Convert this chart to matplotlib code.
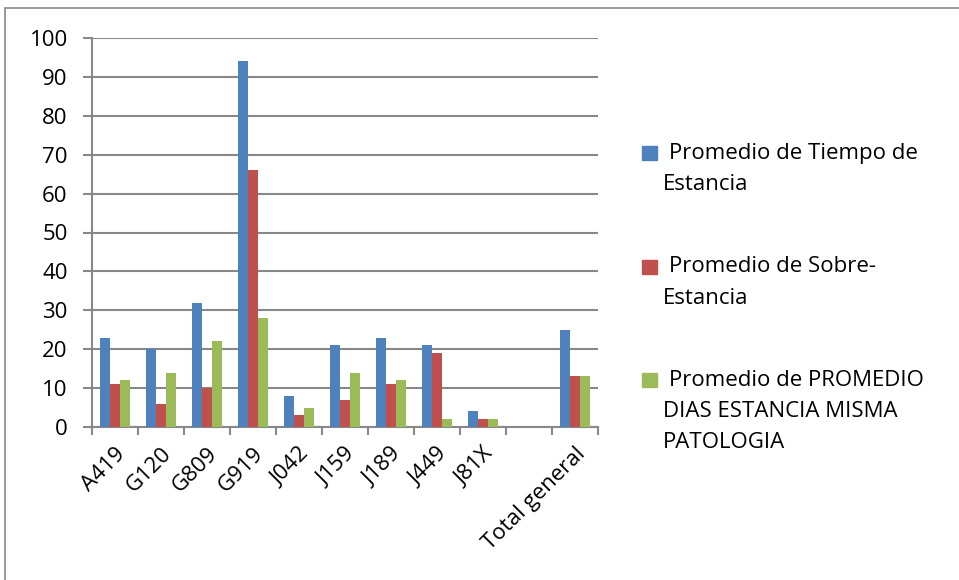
import numpy as np
import matplotlib
matplotlib.use('Agg')
from matplotlib import pyplot as plt
from matplotlib.patches import Rectangle

# datos por diagnostico
categorias = ['A419', 'G120', 'G809', 'G919', 'J042', 'J159', 'J189', 'J449', 'J81X', '', 'Total general']
tiempo_estancia = [23, 20, 32, 94, 8, 21, 23, 21, 4, 0, 25]
sobre_estancia = [11, 6, 10, 66, 3, 7, 11, 19, 2, 0, 13]
dias_misma_patologia = [12, 14, 22, 28, 5, 14, 12, 2, 2, 0, 13]

series = [
    (['Promedio de Tiempo de', 'Estancia'], tiempo_estancia, '#4F81BD'),
    (['Promedio de Sobre-', 'Estancia'], sobre_estancia, '#C0504D'),
    (['Promedio de PROMEDIO', 'DIAS ESTANCIA MISMA', 'PATOLOGIA'], dias_misma_patologia, '#9BBB59'),
]

plt.rcParams['font.family'] = ['Open Sans', 'DejaVu Sans']
fs = 16

W, H = 959, 580
fig = plt.figure(figsize=(W / 100, H / 100), dpi=100, facecolor='w')

# marco exterior del grafico
fig.patches.append(Rectangle((5 / W, -0.1), 2, 1 - 8 / H + 0.1, transform=fig.transFigure,
                             fill=False, edgecolor='#888888', lw=1.2))

ax = fig.add_axes([92 / W, (H - 427) / H, 506 / W, 389 / H])

x = np.arange(len(categorias))
ancho = 0.215
for i, (nombre, valores, color) in enumerate(series):
    ax.bar(x + (i - 1) * ancho, valores, width=ancho, color=color, zorder=3)

ax.set_xlim(-0.5, len(categorias) - 0.5)
ax.set_ylim(0, 100)
ax.set_yticks(np.arange(0, 101, 10))
ax.yaxis.grid(True, color='#888888', lw=1.5, zorder=0)
ax.tick_params(axis='y', labelsize=fs, length=6.5, color='#888888', width=1.5, pad=11)

ax.set_xticks(x)
ax.set_xticklabels(categorias, rotation=45, ha='right', rotation_mode='anchor', fontsize=fs)
ax.set_xticks(np.arange(-0.5, len(categorias), 1), minor=True)
ax.tick_params(axis='x', which='major', length=0, pad=12)
ax.tick_params(axis='x', which='minor', length=6, color='#888888', width=1.5)

for lado in ['top', 'right']:
    ax.spines[lado].set_visible(False)
for lado in ['left', 'bottom']:
    ax.spines[lado].set_color('#888888')
    ax.spines[lado].set_linewidth(1.5)

# leyenda a la derecha, una linea de texto por fila
y_leyenda = [153, 267, 380]
paso = 31.5
for (lineas, valores, color), yp in zip(series, y_leyenda):
    fig.patches.append(Rectangle((642 / W, 1 - (yp + 7) / H), 15 / W, 14 / H,
                                 transform=fig.transFigure, color=color))
    for k, linea in enumerate(lineas):
        xt = 669 if k == 0 else 663
        fig.text(xt / W, 1 - (yp + k * paso) / H, linea, fontsize=fs, va='center', ha='left')

fig.savefig('out.png', dpi=100)
